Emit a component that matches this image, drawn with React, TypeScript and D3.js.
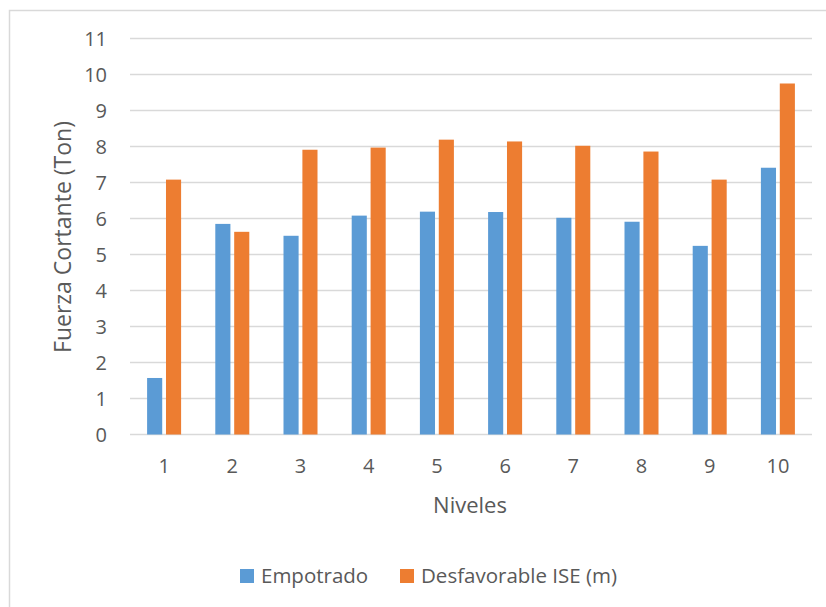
import React from "react";
import * as d3 from "d3";

const categories = ["1", "2", "3", "4", "5", "6", "7", "8", "9", "10"];
const empotrado = [1.57, 5.85, 5.52, 6.08, 6.19, 6.18, 6.02, 5.91, 5.24, 7.41];
const desfavorable = [7.08, 5.63, 7.91, 7.97, 8.19, 8.14, 8.02, 7.86, 7.08, 9.75];
const seriesNames = ["Empotrado", "Desfavorable ISE (m)"];
const yTicks = [0, 1, 2, 3, 4, 5, 6, 7, 8, 9, 10, 11];

const W = 826;
const H = 607;
const colors = ["#5B9BD5", "#ED7D31"];
const textColor = "#595959";
const font = "'Open Sans', sans-serif";

export default function App() {
  const x = d3.scaleBand<string>().domain(categories).range([130, 812]).paddingInner(0).paddingOuter(0);
  const y = d3.scaleLinear().domain([0, 11]).range([434.5, 38.5]);
  const inner = d3.scaleBand<string>().domain(["0", "1"]).range([-17, 17]).paddingInner(0.2);
  const series = [empotrado, desfavorable];

  return (
    <svg width={W} height={H} style={{ position: "absolute", left: 0, top: 0, background: "#fff" }} fontFamily={font}>
      <rect x={9.5} y={10.5} width={W + 20} height={H + 20} fill="#fff" stroke="#d9d9d9" strokeWidth={1.5} />
      {yTicks.map((t) => (
        <g key={t}>
          <line x1={130} x2={812} y1={y(t)} y2={y(t)} stroke="#d9d9d9" strokeWidth={1.6} />
          <text x={107} y={y(t)} dy="0.35em" textAnchor="end" fontSize={20} fill={textColor}>
            {t}
          </text>
        </g>
      ))}
      {series.map((vals, si) =>
        categories.map((c, i) => {
          const cx = (x(c) as number) + x.bandwidth() / 2;
          const bx = cx + (inner(String(si)) as number);
          return (
            <rect
              key={si + "-" + c}
              x={bx}
              y={y(vals[i])}
              width={inner.bandwidth()}
              height={y(0) - y(vals[i])}
              fill={colors[si]}
            />
          );
        })
      )}
      {categories.map((c) => (
        <text
          key={c}
          x={(x(c) as number) + x.bandwidth() / 2}
          y={473}
          textAnchor="middle"
          fontSize={20}
          fill={textColor}
        >
          {c}
        </text>
      ))}
      <text x={470} y={513} textAnchor="middle" fontSize={22} fill={textColor}>
        Niveles
      </text>
      <text
        transform={`translate(71, 237) rotate(-90)`}
        textAnchor="middle"
        fontSize={23}
        fill={textColor}
      >
        Fuerza Cortante (Ton)
      </text>
      {seriesNames.map((n, i) => {
        const lx = i === 0 ? 240 : 400;
        return (
          <g key={n}>
            <rect x={lx} y={569} width={14} height={14} fill={colors[i]} />
            <text x={lx + 21} y={583} fontSize={20.5} fill={textColor}>
              {n}
            </text>
          </g>
        );
      })}
    </svg>
  );
}
